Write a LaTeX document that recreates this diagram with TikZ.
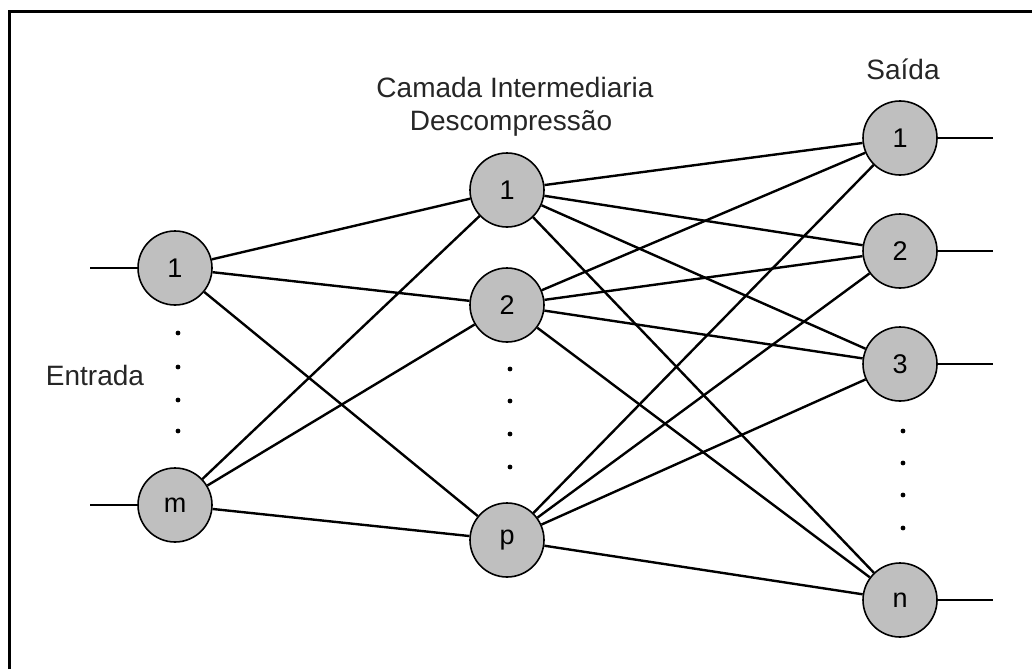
\documentclass[tikz,border=0pt]{standalone}
\usepackage{fontspec}
\setmainfont{Liberation Sans}
\tikzstyle{neuron}=[circle, draw, fill=black!25, line width=1.6pt, inner sep=0pt, minimum size=74pt, font=\fontsize{27}{31}\selectfont]
\tikzstyle{legenda}=[font=\fontsize{28}{33}\selectfont, anchor=base, text=black!85]
\newcommand{\neuron}{\node[neuron]}

\begin{document}
\begin{tikzpicture}[x=1pt, y=-1pt, line width=2.4pt]
\useasboundingbox (0,0) rectangle (1032,669);
%frame
\draw[line width=3pt] (9.5,669) -- (9.5,12) -- (1032,12);
%names
\node[legenda] (entrada) at (95,385){Entrada};
\node[legenda] (camada) at (515,97){Camada Intermediaria};
\node[legenda] (descomp) at (511,130){Descompressão};
\node[legenda] (saida) at (903,79){Saída};
%vertices
\neuron (i1) at (175,268){1};
\neuron (im) at (175,505){m};
\neuron (h1) at (507,190){1};
\neuron (h2) at (507,305){2};
\neuron (hp) at (507,540){p};
\neuron (o1) at (900,138){1};
\neuron (o2) at (900,251){2};
\neuron (o3) at (900,364){3};
\neuron (on) at (900,600){n};
%dots
\foreach \y in {333,367,400,431}{
	\fill (178,\y) circle (2.4pt);}
\foreach \y in {369,401,434,467}{
	\fill (510,\y) circle (2.4pt);}
\foreach \y in {431,463,495,528}{
	\fill (903,\y) circle (2.4pt);}
%edges
\coordinate (e1) at (90,268);
\coordinate (em) at (90,505);
\draw (e1) -- (i1);
\draw (em) -- (im);
\foreach \a in {i1,im}{
	\foreach \b in {h1,h2,hp}{
		\draw (\a) -- (\b);}}
\foreach \a in {h1,h2,hp}{
	\foreach \b in {o1,o2,o3,on}{
		\draw (\a) -- (\b);}}
\foreach \b/\y in {o1/138,o2/251,o3/364,on/600}{
	\coordinate (s\b) at (993,\y);
	\draw (\b) -- (s\b);}
\end{tikzpicture}
\end{document}
